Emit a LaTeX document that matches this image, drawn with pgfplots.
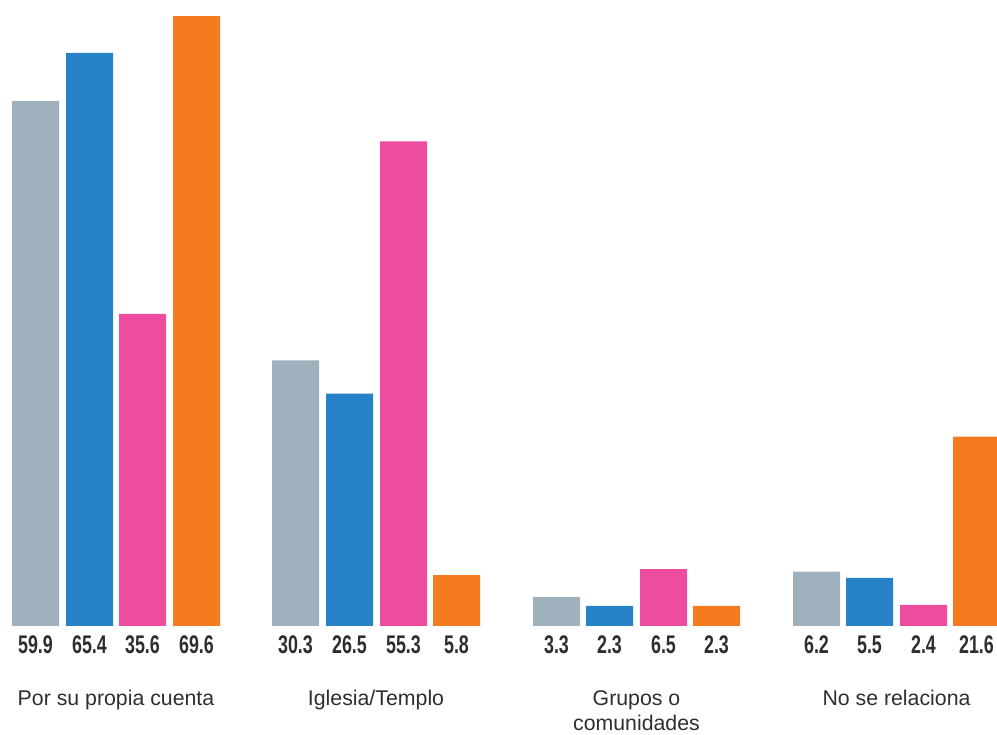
\documentclass[border=0pt]{standalone}
\usepackage{fontspec}
\setmainfont{Liberation Sans}
\newfontfamily\numfont[FakeStretch=0.7]{Liberation Sans}
\usepackage{pgfplots}
\pgfplotsset{compat=1.18}
\definecolor{cgray}{HTML}{A0B1BE}
\definecolor{cblue}{HTML}{2882C7}
\definecolor{cpink}{HTML}{EE4C9E}
\definecolor{corange}{HTML}{F47B20}
\definecolor{ctext}{HTML}{2E2E2E}
\begin{document}
\begin{tikzpicture}[x=1pt,y=1pt]
\begin{axis}[
  scale only axis, width=997pt, height=626pt,
  xmin=0, xmax=997, ymin=0, ymax=71.43,
  axis line style={draw=none},
  major tick length=0pt,
  ytick=\empty,
  xtick={116,376,636.5,896.5},
  xticklabels={Por su propia cuenta, Iglesia/Templo, {Grupos o\\comunidades}, No se relaciona},
  xticklabel style={anchor=north, yshift=-61pt, align=center, font=\fontsize{21.3}{25}\selectfont, text=ctext},
  clip=false,
]
\addplot[ybar, bar width=47, bar shift=0pt, fill=cgray, draw=none] coordinates {(35.5,59.9) (295.5,30.3) (556.5,3.3) (816.5,6.2)};
\addplot[ybar, bar width=47, bar shift=0pt, fill=cblue, draw=none] coordinates {(89.5,65.4) (349.5,26.5) (609.5,2.3) (869.5,5.5)};
\addplot[ybar, bar width=47, bar shift=0pt, fill=cpink, draw=none] coordinates {(142.5,35.6) (403.5,55.3) (663.5,6.5) (923.5,2.4)};
\addplot[ybar, bar width=47, bar shift=0pt, fill=corange, draw=none] coordinates {(196.5,69.6) (456.5,5.8) (716.5,2.3) (976.5,21.6)};
\addplot[draw=none, mark=none, point meta=explicit,
  nodes near coords={\pgfmathprintnumber[fixed,precision=1,fixed zerofill,assume math mode=true]{\pgfplotspointmeta}},
  every node near coord/.style={anchor=center, yshift=-19pt, font=\numfont\bfseries\fontsize{25.5}{25}\selectfont, text=ctext}]
  table[meta=v] {
x y v
35.5 0 59.9
89.5 0 65.4
142.5 0 35.6
196.5 0 69.6
295.5 0 30.3
349.5 0 26.5
403.5 0 55.3
456.5 0 5.8
556.5 0 3.3
609.5 0 2.3
663.5 0 6.5
716.5 0 2.3
816.5 0 6.2
869.5 0 5.5
923.5 0 2.4
976.5 0 21.6
};
\end{axis}
\pgfresetboundingbox
\useasboundingbox (0,-109) rectangle (997,626);
\end{tikzpicture}
\end{document}
